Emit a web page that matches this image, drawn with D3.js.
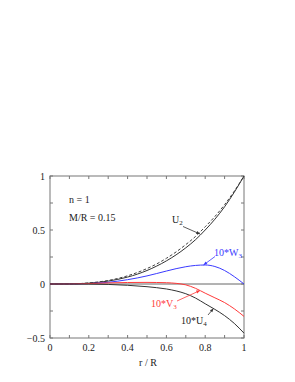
<!DOCTYPE html>
<html><head><meta charset="utf-8">
<script src="https://cdn.jsdelivr.net/npm/d3@7"></script>
<style>body{margin:0;background:#fff}text{font-family:"Liberation Serif","DejaVu Serif",serif;}</style>
</head><body><svg id="c" width="295" height="382"></svg>
<script>
const rVals   = [0,0.1,0.2,0.3,0.4,0.5,0.55,0.6,0.65,0.7,0.75,0.8,0.85,0.9,0.95,1];
const U2      = [0,0.001,0.008,0.027,0.064,0.125,0.166,0.214,0.27,0.335,0.41,0.5,0.6,0.715,0.85,1];
const U2dash  = [0,0.001,0.01,0.033,0.076,0.143,0.186,0.238,0.297,0.365,0.44,0.53,0.625,0.735,0.86,1];
const W3x10   = [0,0.0005,0.004,0.016,0.04,0.075,0.097,0.12,0.142,0.16,0.172,0.176,0.162,0.125,0.068,0];
const V3x10   = [0,0.0005,0.004,0.01,0.014,0.015,0.014,0.012,0.006,-0.008,-0.04,-0.085,-0.128,-0.172,-0.23,-0.30];
const U4x10   = [0,0,-0.001,-0.004,-0.012,-0.025,-0.034,-0.046,-0.064,-0.09,-0.13,-0.183,-0.235,-0.293,-0.365,-0.455];
const xTicks  = [0,0.2,0.4,0.6,0.8,1];
const xTickLabels = ["0","0.2","0.4","0.6","0.8","1"];
const yTicks  = [-0.5,0,0.5,1];
const yTickLabels = ["\u22120.5","0","0.5","1"];

const svg = d3.select("#c");
const x = d3.scaleLinear().domain([0,1]).range([50,244]);
const y = d3.scaleLinear().domain([-0.5,1]).range([338,176]);
const g = svg.append("g");

// frame
g.append("rect").attr("x",x(0)).attr("y",y(1)).attr("width",x(1)-x(0)).attr("height",y(-0.5)-y(1))
  .attr("fill","none").attr("stroke","#777").attr("stroke-width",1);
// zero line
g.append("line").attr("x1",x(0)).attr("x2",x(1)).attr("y1",y(0)).attr("y2",y(0)).attr("stroke","#666").attr("stroke-width",1);

// ticks inward
const minorX = d3.range(0,1.0001,0.1);
const minorY = d3.range(-0.5,1.0001,0.25);
minorX.forEach(v=>{
  g.append("line").attr("x1",x(v)).attr("x2",x(v)).attr("y1",y(-0.5)).attr("y2",y(-0.5)-3).attr("stroke","#777");
  g.append("line").attr("x1",x(v)).attr("x2",x(v)).attr("y1",y(1)).attr("y2",y(1)+3).attr("stroke","#777");
});
minorY.forEach(v=>{
  g.append("line").attr("x1",x(0)).attr("x2",x(0)+3).attr("y1",y(v)).attr("y2",y(v)).attr("stroke","#777");
  g.append("line").attr("x1",x(1)).attr("x2",x(1)-3).attr("y1",y(v)).attr("y2",y(v)).attr("stroke","#777");
});
xTicks.forEach((v,i)=>{
  g.append("text").attr("x",x(v)).attr("y",351).attr("text-anchor","middle").attr("font-size",10).attr("fill","#222").text(xTickLabels[i]);
});
yTicks.forEach((v,i)=>{
  g.append("text").attr("x",45).attr("y",y(v)+3.5).attr("text-anchor","end").attr("font-size",10).attr("fill","#222").text(yTickLabels[i]);
});
g.append("text").attr("x",148).attr("y",366).attr("text-anchor","middle").attr("font-size",10).attr("fill","#222").text("r / R");

const line = d3.line().x((d,i)=>x(rVals[i])).y(d=>y(d)).curve(d3.curveMonotoneX);
const series = [
  {d:U2dash,c:"#444",dash:"3,2"},
  {d:U2,c:"#333",dash:null},
  {d:W3x10,c:"#3a3aff",dash:null},
  {d:V3x10,c:"#ff3a3a",dash:null},
  {d:U4x10,c:"#333",dash:null}
];
series.forEach(s=>{
  g.append("path").attr("d",line(s.d)).attr("fill","none").attr("stroke",s.c).attr("stroke-width",1)
   .attr("stroke-dasharray",s.dash);
});

// annotation texts
g.append("text").attr("x",69).attr("y",203).attr("font-size",10).attr("fill","#222").text("n = 1");
g.append("text").attr("x",69).attr("y",221).attr("font-size",10).attr("fill","#222").text("M/R = 0.15");

function label(xp,yp,main,sub,col){
  const t=g.append("text").attr("x",xp).attr("y",yp).attr("font-size",10).attr("fill",col);
  t.append("tspan").text(main);
  t.append("tspan").attr("font-size",7).attr("dy",2).text(sub);
}
function arrow(x1,y1,x2,y2,col){
  g.append("line").attr("x1",x1).attr("y1",y1).attr("x2",x2).attr("y2",y2).attr("stroke",col).attr("stroke-width",0.8);
  const a=Math.atan2(y2-y1,x2-x1), L=4, w=0.4;
  const p=[[x2,y2],[x2-L*Math.cos(a-w),y2-L*Math.sin(a-w)],[x2-L*Math.cos(a+w),y2-L*Math.sin(a+w)]];
  g.append("path").attr("d","M"+p.map(q=>q.join(",")).join("L")+"Z").attr("fill",col);
}
label(172,223,"U","2","#222");
arrow(183,226.5,200,234,"#333");
label(214,256,"10*W","3","#3a3aff");
arrow(215,256.5,203.5,265,"#3a3aff");
label(151,307,"10*V","3","#ff3a3a");
arrow(177,301,200,290.5,"#ff3a3a");
label(181,324,"10*U","4","#222");
arrow(208,315,213.5,308.5,"#333");
</script></body></html>
